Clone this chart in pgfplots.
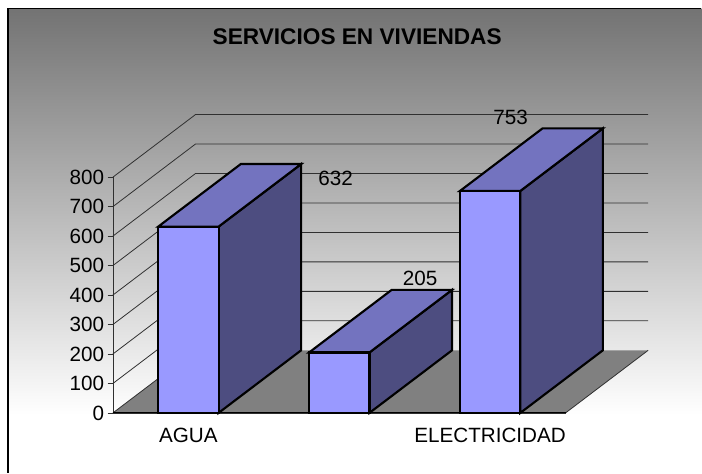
\documentclass[border=0pt]{standalone}
\usepackage{pgfplots}
\pgfplotsset{compat=1.18}
\usepackage{fontspec}
\setmainfont{Liberation Sans}
\definecolor{barfront}{HTML}{9999FF}
\definecolor{bartop}{HTML}{7373BF}
\definecolor{barside}{HTML}{4D4D80}
\definecolor{floorc}{HTML}{808080}
\definecolor{gridc}{HTML}{303030}
\definecolor{bgtop}{HTML}{737373}
\pgfplotstableread{
x v
0.5 632
1.5 205
2.5 753
}\bardata
\begin{document}
\begin{tikzpicture}[x=0.75pt,y=0.75pt]
\path (0,0) rectangle (702,473);
\shade[top color=bgtop,bottom color=white] (8,58) rectangle (702,464.5);
\draw[black,line width=0.9pt] (702,464.5) -- (8,464.5) -- (8,0);
\node[font=\fontsize{17}{20}\selectfont\bfseries] at (357.5,436.5) {SERVICIOS EN VIVIENDAS};
\begin{axis}[
  at={(84.75pt,44.775pt)},anchor=origin,
  scale only axis,width=339.75pt,height=177pt,
  xmin=0,xmax=3,ymin=0,ymax=800,clip=false,
  axis x line=bottom,axis y line=left,
  axis line style={-,draw=gridc,line width=0.5pt},
  xtick={0.5,1.5,2.5},xticklabels={AGUA,,ELECTRICIDAD},
  ytick={0,100,...,800},
  major tick length=4pt,
  x tick style={draw=none},
  y tick style={draw=gridc,line width=0.5pt},
  tick align=outside,
  xticklabel style={yshift=-4pt},
  yticklabel style={xshift=1pt},
  tick label style={font=\fontsize{15.5}{18}\selectfont},
  /pgf/number format/assume math mode=true,
  grid line/.style={draw=gridc,line width=0.6pt},
  face/.style={draw=black,line width=1.6pt,line join=miter},
]
% floor
\addplot[fill=floorc,draw=none] coordinates {(0,0)(3,0)(3.5477,212.5)(0.5477,212.5)} --cycle;
% right and left floor edges
\addplot[grid line] coordinates {(3,0)(3.5477,212.5)};
\addplot[grid line] coordinates {(0,0)(0.5477,212.5)};
% gridlines on the side and back walls
\addplot[grid line] coordinates {(0,100)(0.5477,312.5)(3.5477,312.5)};
\addplot[grid line] coordinates {(0,200)(0.5477,412.5)(3.5477,412.5)};
\addplot[grid line] coordinates {(0,300)(0.5477,512.5)(3.5477,512.5)};
\addplot[grid line] coordinates {(0,400)(0.5477,612.5)(3.5477,612.5)};
\addplot[grid line] coordinates {(0,500)(0.5477,712.5)(3.5477,712.5)};
\addplot[grid line] coordinates {(0,600)(0.5477,812.5)(3.5477,812.5)};
\addplot[grid line] coordinates {(0,700)(0.5477,912.5)(3.5477,912.5)};
\addplot[grid line] coordinates {(0,800)(0.5477,1012.5)(3.5477,1012.5)};
% front edge
\addplot[draw=black,line width=0.8pt] coordinates {(0,0)(3,0)};
% bar 1: AGUA
\addplot[face,fill=barside] coordinates {(0.7,0)(1.2477,212.5)(1.2477,844.5)(0.7,632)} --cycle;
\addplot[face,fill=bartop] coordinates {(0.3,632)(0.7,632)(1.2477,844.5)(0.8477,844.5)} --cycle;
% bar 2
\addplot[face,fill=barside] coordinates {(1.7,0)(2.2477,212.5)(2.2477,417.5)(1.7,205)} --cycle;
\addplot[face,fill=bartop] coordinates {(1.3,205)(1.7,205)(2.2477,417.5)(1.8477,417.5)} --cycle;
% bar 3: ELECTRICIDAD
\addplot[face,fill=barside] coordinates {(2.7,0)(3.2477,212.5)(3.2477,965.5)(2.7,753)} --cycle;
\addplot[face,fill=bartop] coordinates {(2.3,753)(2.7,753)(3.2477,965.5)(2.8477,965.5)} --cycle;
% front faces
\addplot[ybar,bar width=45.4pt,bar shift=0pt,face,fill=barfront] table[x=x,y=v]{\bardata};
% value labels
\addplot[draw=none,mark=none,nodes near coords,point meta=explicit symbolic,
  every node near coord/.append style={anchor=center,font=\fontsize{15.5}{18}\selectfont,xshift=110.6pt,yshift=36.5pt}]
  coordinates {(0.5,632)[632]};
\addplot[draw=none,mark=none,nodes near coords,point meta=explicit symbolic,
  every node near coord/.append style={anchor=center,font=\fontsize{15.5}{18}\selectfont,xshift=60.7pt,yshift=55.5pt}]
  coordinates {(1.5,205)[205]};
\addplot[draw=none,mark=none,nodes near coords,point meta=explicit symbolic,
  every node near coord/.append style={anchor=center,font=\fontsize{15.5}{18}\selectfont,xshift=15.4pt,yshift=55.5pt}]
  coordinates {(2.5,753)[753]};
\end{axis}
\end{tikzpicture}
\end{document}
